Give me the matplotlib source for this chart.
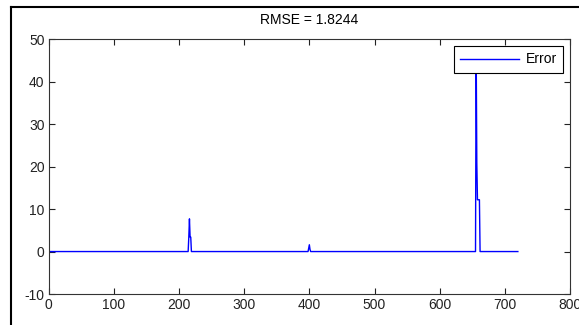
import numpy as np
import matplotlib
matplotlib.use("Agg")
import matplotlib.pyplot as plt
from matplotlib.lines import Line2D

# Data
n_samples = 720
spike_x = [215, 216, 217, 218, 219, 399, 400, 401, 655, 656, 657, 658, 659, 660, 661, 662]
spike_y = [3.4, 7.7, 3.4, 3.4, 0.0, 0.8, 1.6, 0.5, 0.0, 48.0, 20.8, 12.2, 12.2, 12.2, 12.2, 0.0]
title_text = "RMSE = 1.8244"
legend_label = "Error"
x_ticks = [0, 100, 200, 300, 400, 500, 600, 700, 800]
y_ticks = [-10, 0, 10, 20, 30, 40, 50]

x = np.arange(1, n_samples + 1)
y = np.zeros(n_samples)
for xi, yi in zip(spike_x, spike_y):
    y[xi - 1] = yi

plt.rcParams['font.family'] = ['Liberation Sans', 'DejaVu Sans']
plt.rcParams['axes.unicode_minus'] = False
fig = plt.figure(figsize=(5.79, 3.25), dpi=100)
fig.patch.set_facecolor('white')
ax = fig.add_axes([48.7/579, 1 - 294/325, (570 - 48.7)/579, (294 - 39.3)/325])
ax.plot(x, y, color=(0, 0, 1), lw=1.0, label=legend_label)
ax.set_xlim(0, 800)
ax.set_ylim(-10, 50)
ax.set_xticks(x_ticks)
ax.set_yticks(y_ticks)
ax.tick_params(direction='in', top=True, right=True, labelsize=10, length=4, width=0.8, pad=3, colors='#222222')
for s in ax.spines.values():
    s.set_color('#333333')
    s.set_linewidth(0.8)
ax.set_title(title_text, fontsize=10, pad=11)
leg = ax.legend(loc='upper right', fancybox=False, edgecolor='black', fontsize=10,
                handlelength=4.2, handletextpad=0.5, borderaxespad=0.5, framealpha=1,
                borderpad=0.45)
leg.get_frame().set_linewidth(0.8)

# outer frame (cropped screenshot border)
fig.add_artist(Line2D([11/579, 11/579], [-0.1, 1 - 7/325], transform=fig.transFigure, color='black', lw=1.5))
fig.add_artist(Line2D([11/579, 1.1], [1 - 7/325, 1 - 7/325], transform=fig.transFigure, color='black', lw=1.5))

fig.savefig("out.png", dpi=100)
